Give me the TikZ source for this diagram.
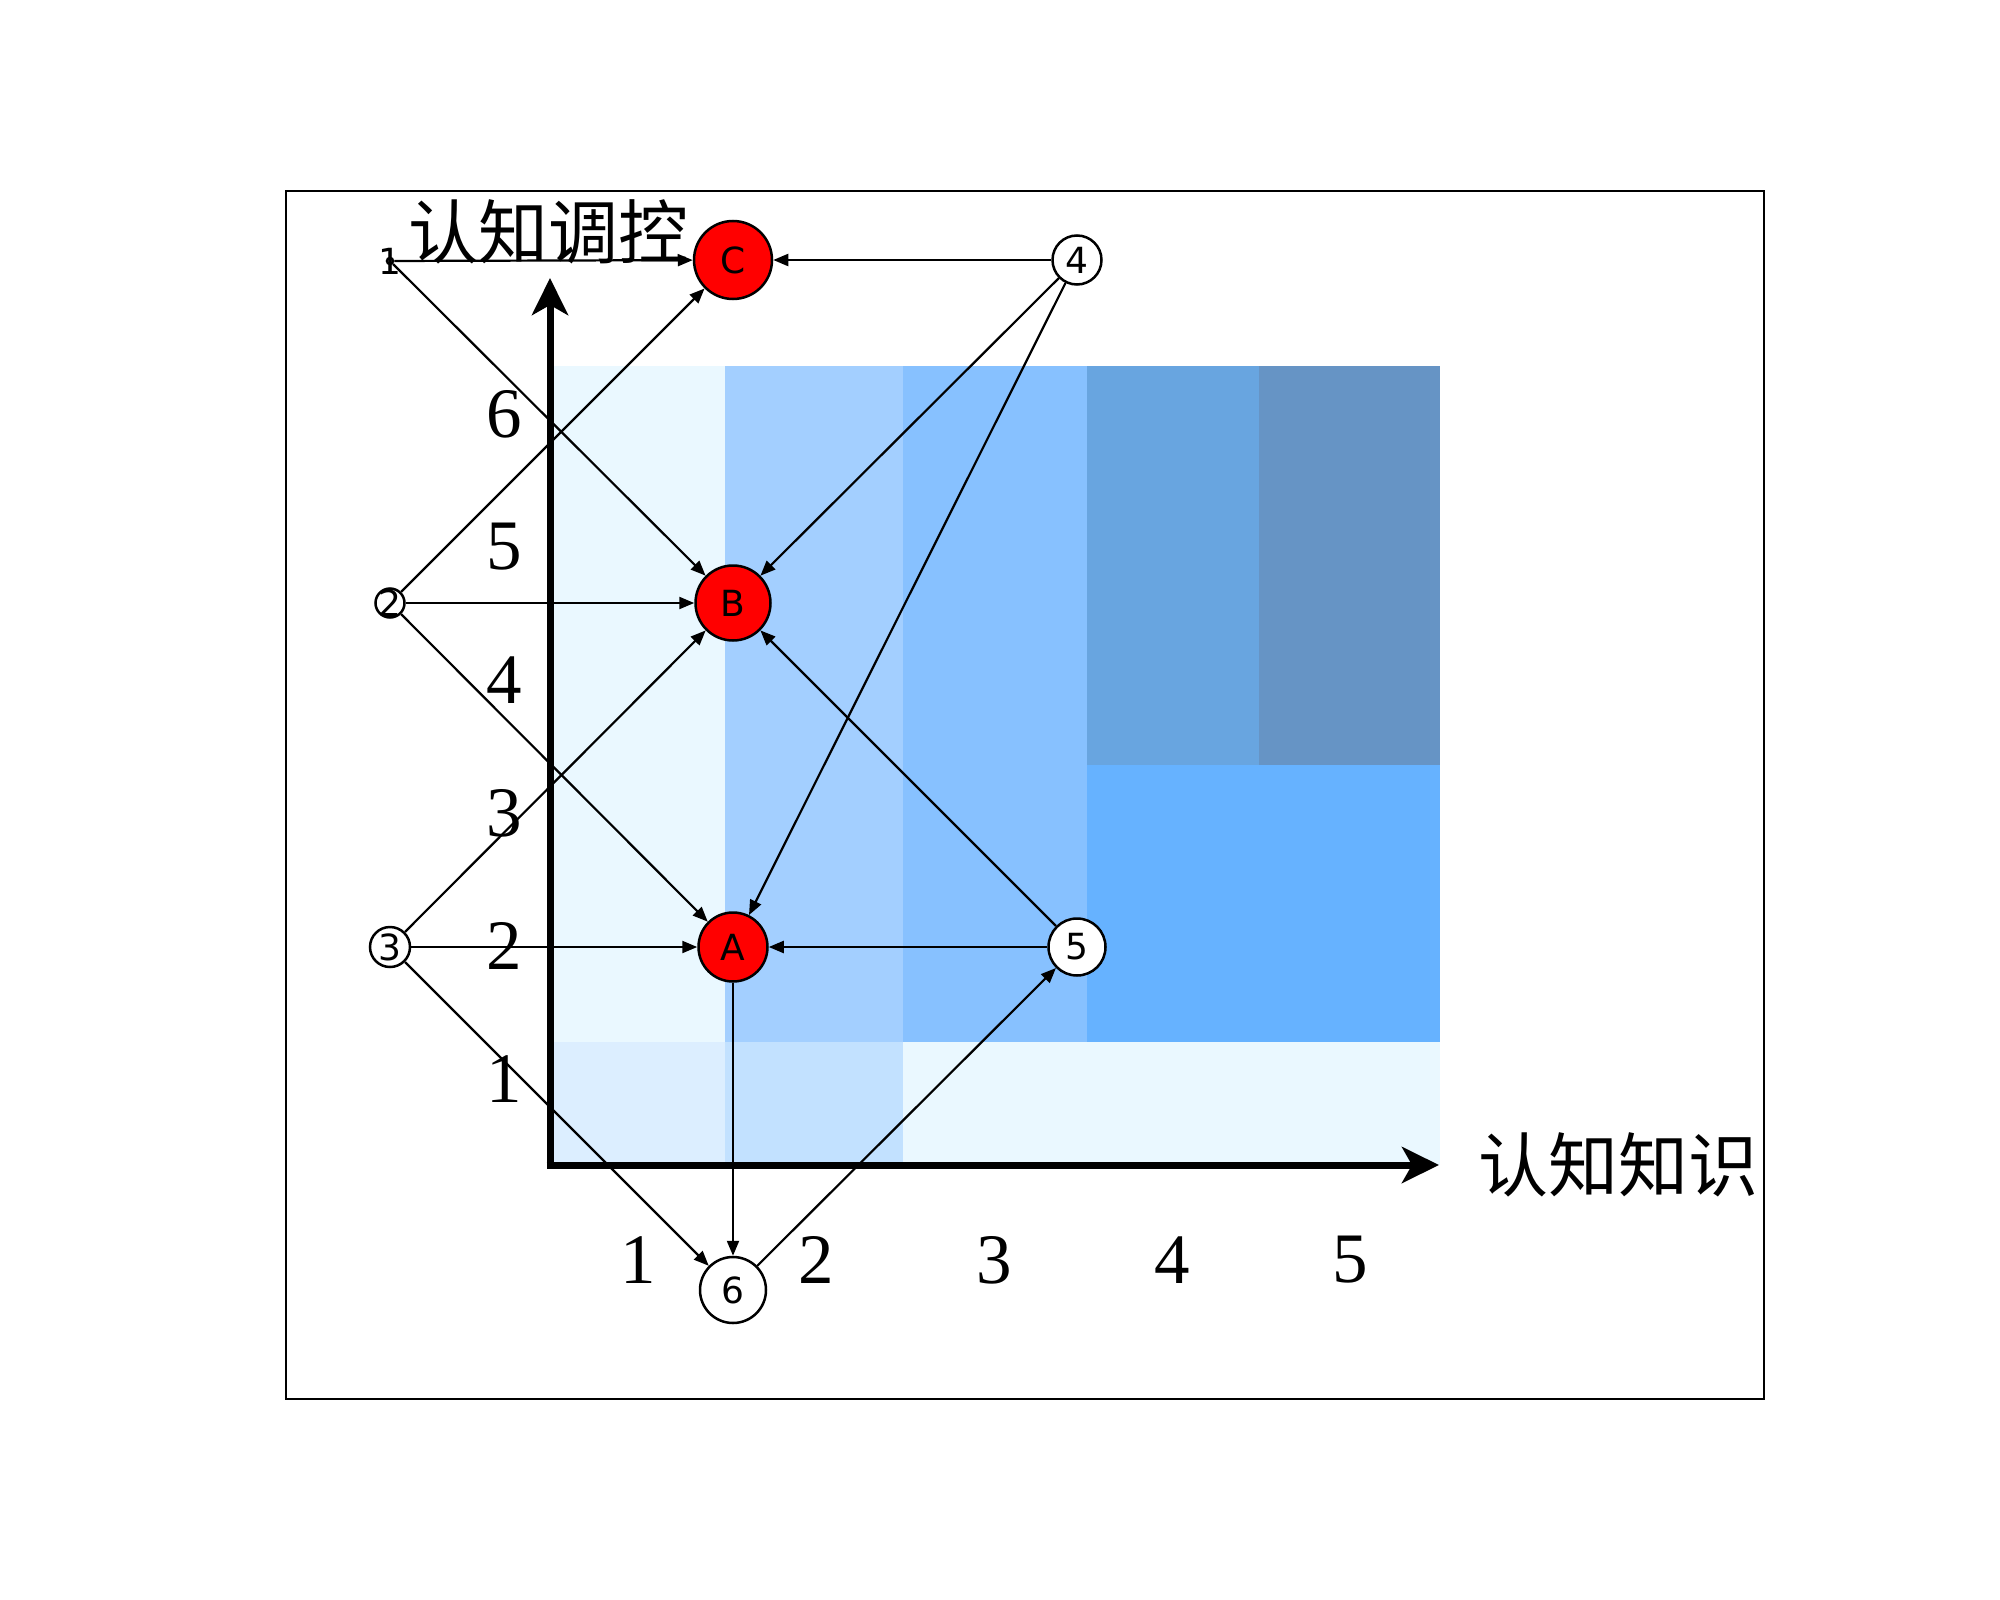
\documentclass[tikz,border=0pt]{standalone}
\usepackage{fontspec}
\setmainfont{DejaVu Sans}
\newfontfamily\cjk{Noto Sans CJK SC}
\newfontfamily\tnr{Liberation Serif}
\usetikzlibrary{arrows.meta}
\definecolor{cA}{HTML}{EAF8FF}
\definecolor{cB}{HTML}{A3CFFF}
\definecolor{cC}{HTML}{87C1FF}
\definecolor{cD}{HTML}{68A5E0}
\definecolor{cE}{HTML}{6694C5}
\definecolor{cF}{HTML}{66B2FF}
\definecolor{cG}{HTML}{DCEEFF}
\definecolor{cH}{HTML}{C2E1FF}
\begin{document}
\begin{tikzpicture}[x=1pt,y=-1pt,
  vnode/.style={circle,draw=black,line width=2.5pt,fill=white,inner sep=0pt,minimum size=#1},
  rnode/.style={vnode=#1,fill=red},
  lbl/.style={inner sep=0pt,font=\fontsize{36}{36}\selectfont},
  tick/.style={inner sep=0pt,font=\tnr\fontsize{71}{71}\selectfont},
  axlabel/.style={inner sep=0pt,font=\cjk\fontsize{70}{70}\selectfont},
  ed/.style={line width=2.2pt,-{Triangle[length=15pt,width=12pt]}},
  axis/.style={line width=7pt,-{Stealth[length=37pt,width=36pt,inset=10pt]}}]
\useasboundingbox (0,0) rectangle (2000,1600);
% frame
\draw[line width=2pt] (286,191) rectangle (1764,1399);
% background blocks
\fill[cA] (549,366) rectangle (725,1042);
\fill[cB] (725,366) rectangle (903,1042);
\fill[cC] (903,366) rectangle (1087,1042);
\fill[cD] (1087,366) rectangle (1259,765);
\fill[cE] (1259,366) rectangle (1440,765);
\fill[cF] (1087,765) rectangle (1440,1042);
\fill[cG] (549,1042) rectangle (725,1165);
\fill[cH] (725,1042) rectangle (903,1165);
\fill[cA] (903,1042) rectangle (1440,1165);
% axes
\coordinate (O) at (550,1165);
\coordinate (Ytip) at (550,278);
\coordinate (Xtip) at (1439,1165);
\draw[axis] ([yshift=3.5pt]O) -- (Ytip);
\draw[axis] ([xshift=-3.5pt]O) -- (Xtip);
% tick labels
\node[tick] (y6) at (504,414) {6};
\node[tick] (y5) at (504,547) {5};
\node[tick] (y4) at (504,680) {4};
\node[tick] (y3) at (504,813) {3};
\node[tick] (y2) at (504,946) {2};
\node[tick] (y1) at (504,1079) {1};
\node[tick] (x1) at (638,1260) {1};
\node[tick] (x2) at (816,1260) {2};
\node[tick] (x3) at (994,1260) {3};
\node[tick] (x4) at (1172,1260) {4};
\node[tick] (x5) at (1350,1260) {5};
% axis labels
\node[axlabel] (ylab) at (548,232) {认知调控};
\node[axlabel] (xlab) at (1618,1165) {认知知识};
% nodes
\node[vnode=6pt] (n1) at (390,261) {};
\node[vnode=29pt] (n2) at (390,603) {};
\node[vnode=40pt] (n3) at (390,947) {};
\node[vnode=49pt] (n4) at (1077,260) {};
\node[vnode=57pt] (n5) at (1077,947) {};
\node[vnode=66pt] (n6) at (733,1290) {};
\node[rnode=69pt] (A) at (733,947) {};
\node[rnode=75pt] (B) at (733,603) {};
\node[rnode=78pt] (C) at (733,260) {};
% edges
\draw[ed] (n1) -- (C);
\draw[ed] (n1) -- (B);
\draw[ed] (n4) -- (C);
\draw[ed] (n4) -- (B);
\draw[ed] (n4) -- (A);
\draw[ed] (n2) -- (C);
\draw[ed] (n2) -- (B);
\draw[ed] (n2) -- (A);
\draw[ed] (n3) -- (B);
\draw[ed] (n3) -- (A);
\draw[ed] (n3) -- (n6);
\draw[ed] (n5) -- (B);
\draw[ed] (n5) -- (A);
\draw[ed] (n6) -- (n5);
\draw[ed] (A) -- (n6);
% node labels
\node[lbl] (t1) at (n1) {1};
\node[lbl] (t2) at (n2) {2};
\node[lbl] (t3) at (n3) {3};
\node[lbl] (t4) at (n4) {4};
\node[lbl] (t5) at (n5) {5};
\node[lbl] (t6) at (n6) {6};
\node[lbl] (tA) at (A) {A};
\node[lbl] (tB) at (B) {B};
\node[lbl] (tC) at (C) {C};
\end{tikzpicture}
\end{document}
